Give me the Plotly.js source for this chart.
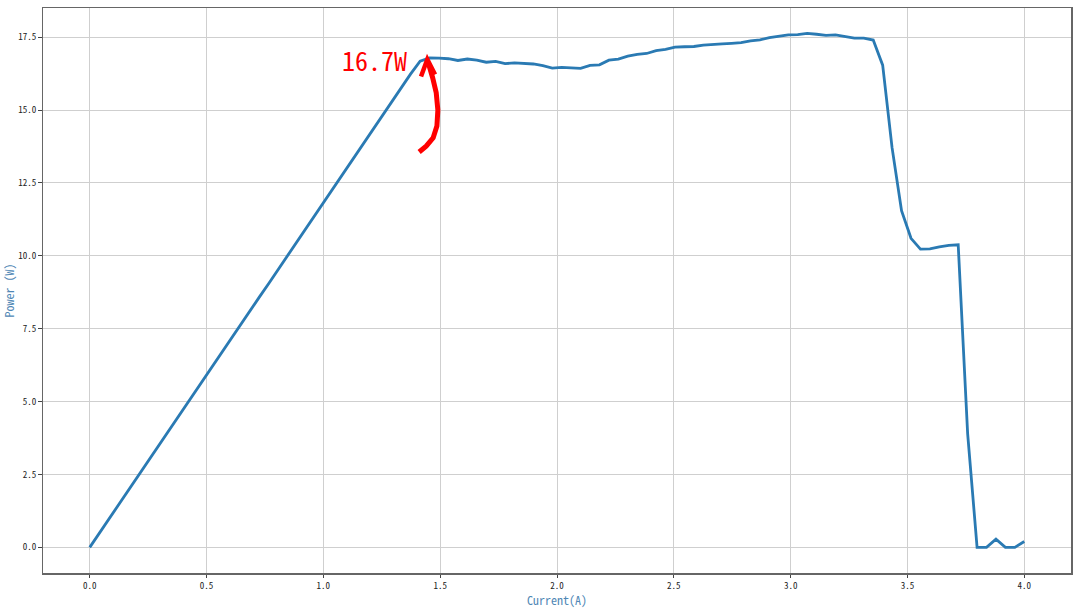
<!DOCTYPE html>
<html>
<head>
<meta charset="utf-8">
<script src="https://cdn.plot.ly/plotly-3.0.1.min.js"></script>
<style>
html,body{margin:0;padding:0;background:#fff;}
#chart{width:1080px;height:608px;}
</style>
</head>
<body>
<div id="chart"></div>
<script>
const current = [0,0.0404,0.0808,0.1212,0.1616,0.2020,0.2424,0.2828,0.3232,0.3636,
0.4040,0.4444,0.4848,0.5253,0.5657,0.6061,0.6465,0.6869,0.7273,0.7677,
0.8081,0.8485,0.8889,0.9293,0.9697,1.0101,1.0505,1.0909,1.1313,1.1717,
1.2121,1.2525,1.2929,1.3333,1.3737,1.4141,1.4545,1.4949,1.5354,1.5758,
1.6162,1.6566,1.6970,1.7374,1.7778,1.8182,1.8586,1.8990,1.9394,1.9798,
2.0202,2.0606,2.1010,2.1414,2.1818,2.2222,2.2626,2.3030,2.3434,2.3838,
2.4242,2.4646,2.5051,2.5455,2.5859,2.6263,2.6667,2.7071,2.7475,2.7879,
2.8283,2.8687,2.9091,2.9495,2.9899,3.0303,3.0707,3.1111,3.1515,3.1919,
3.2323,3.2727,3.3131,3.3535,3.3939,3.4343,3.4747,3.5152,3.5556,3.5960,
3.6364,3.6768,3.7172,3.7576,3.7980,3.8384,3.8788,3.9192,3.9596,4.0];

const power = [0,0.48,0.96,1.43,1.91,2.39,2.87,3.34,3.82,4.30,
4.78,5.25,5.73,6.21,6.69,7.16,7.64,8.12,8.60,9.07,
9.55,10.03,10.51,10.98,11.46,11.94,12.42,12.89,13.37,13.85,
14.33,14.80,15.28,15.76,16.24,16.68,16.79,16.78,16.76,16.70,
16.75,16.71,16.64,16.67,16.59,16.62,16.59,16.58,16.52,16.44,
16.46,16.45,16.43,16.53,16.55,16.71,16.75,16.85,16.91,16.94,
17.04,17.08,17.16,17.17,17.18,17.23,17.24,17.27,17.29,17.31,
17.37,17.41,17.48,17.52,17.58,17.59,17.63,17.60,17.56,17.58,
17.53,17.47,17.47,17.40,16.54,13.70,11.55,10.60,10.23,10.24,
10.31,10.36,10.38,3.90,0,0,0.28,0,0,0.20];

const xTicks = [0,0.5,1,1.5,2,2.5,3,3.5,4];
const xTickLabels = ['0.0','0.5','1.0','1.5','2.0','2.5','3.0','3.5','4.0'];
const yTicks = [0,2.5,5,7.5,10,12.5,15,17.5];
const yTickLabels = ['0.0','2.5','5.0','7.5','10.0','12.5','15.0','17.5'];
const peakLabel = '16.7W';

const FONT = '"Noto Sans Mono CJK SC", "Noto Sans CJK SC", "DejaVu Sans Mono", monospace';
const titleColor = '#4f87b5';

const trace = {
  x: current, y: power, type: 'scatter', mode: 'lines',
  line: {color: '#2a7ab3', width: 2.8},
  hoverinfo: 'skip'
};

const layout = {
  width: 1080, height: 608,
  margin: {l: 43, r: 9, t: 8, b: 35, pad: 0},
  paper_bgcolor: '#fff', plot_bgcolor: '#fff',
  showlegend: false,
  font: {family: FONT, size: 9, color: '#222'},
  xaxis: {
    range: [-0.2, 4.2], tickvals: xTicks, ticktext: xTickLabels,
    showgrid: true, gridcolor: '#cfcfcf', gridwidth: 1,
    zeroline: false, showline: true, linecolor: '#666', linewidth: 1.5, mirror: true,
    ticks: 'outside', ticklen: 3.5, tickcolor: '#444', tickwidth: 1,
    tickfont: {family: FONT, size: 9, color: '#222'},
    title: {text: 'Current(A)', font: {family: FONT, size: 12, color: titleColor}, standoff: 1},
    automargin: false
  },
  yaxis: {
    range: [-0.88, 18.5], tickvals: yTicks, ticktext: yTickLabels,
    showgrid: true, gridcolor: '#cfcfcf', gridwidth: 1,
    zeroline: false, showline: true, linecolor: '#666', linewidth: 1.5, mirror: true,
    ticks: 'outside', ticklen: 3.5, tickcolor: '#444', tickwidth: 1,
    tickfont: {family: FONT, size: 9, color: '#222'},
    title: {text: 'Power (W)', font: {family: FONT, size: 12, color: titleColor}, standoff: 5},
    automargin: false
  },
  annotations: [{
    x: 1.218, y: 16.72, xref: 'x', yref: 'y', text: peakLabel, showarrow: false,
    font: {family: FONT, size: 26, color: '#ff0000'}, xanchor: 'center', yanchor: 'middle'
  }],
  shapes: [
    {type: 'path', xref: 'x', yref: 'y',
     path: 'M 1.410 13.56 L 1.440 13.76 L 1.470 14.05 L 1.486 14.45 L 1.490 15.0 L 1.483 15.6 L 1.468 16.1 L 1.449 16.62',
     line: {color: '#ff0000', width: 5}},
    {type: 'path', xref: 'x', yref: 'y',
     path: 'M 1.418 16.15 L 1.445 16.74 L 1.478 16.22',
     line: {color: '#ff0000', width: 4.5}}
  ]
};

Plotly.newPlot('chart', [trace], layout, {displayModeBar: false, staticPlot: true});
</script>
</body>
</html>
